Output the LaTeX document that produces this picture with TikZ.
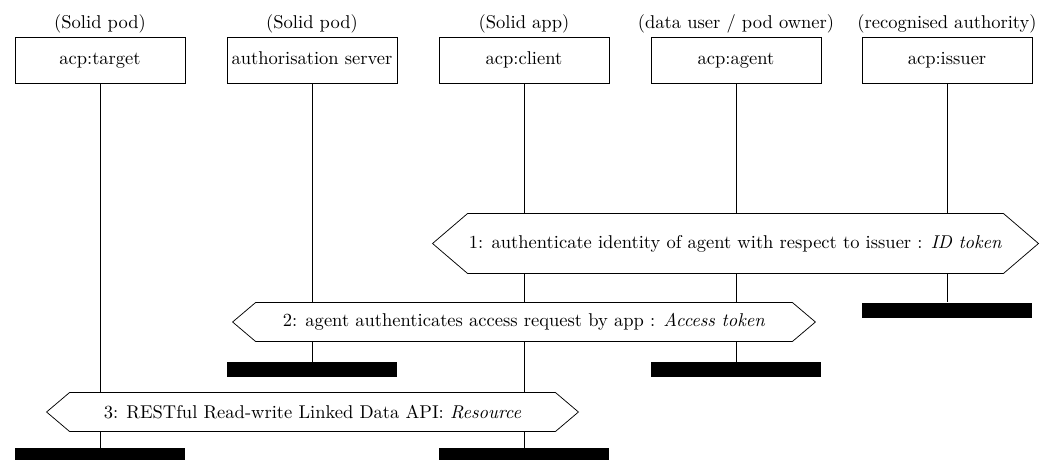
\documentclass[tikz,border=0pt]{standalone}
\usetikzlibrary{backgrounds}
\newcommand{\msghex}[2]{\draw[hexa] (#1.north west) -- (#1.north east) -- ([xshift=#2]#1.east) -- (#1.south east) -- (#1.south west) -- ([xshift=-#2]#1.west) -- cycle;}
\begin{document}
\begin{tikzpicture}[x=0.54pt,y=-0.54pt, line width=0.5pt,
  actor/.style={draw, minimum width=91.8pt, minimum height=24.84pt, inner sep=0pt, text height=1.6ex, text depth=0.45ex},
  role/.style={inner sep=0pt},
  endbar/.style={fill=black, minimum width=91.8pt, minimum height=8.1pt, inner sep=0pt},
  msg/.style={inner sep=0pt},
  hexa/.style={draw, fill=white},
  life/.style={draw}
]
\useasboundingbox (0,0) rectangle (1051,459);
% actors
\node[actor] (target) at (100,60) {acp:target};
\node[actor] (auth) at (312,60) {authorisation server};
\node[actor] (client) at (524,60) {acp:client};
\node[actor] (agent) at (736,60) {acp:agent};
\node[actor] (issuer) at (947,60) {acp:issuer};
% roles
\node[role] (rtarget) at (100,24) {(Solid pod)};
\node[role] (rauth) at (312,24) {(Solid pod)};
\node[role] (rclient) at (524,24) {(Solid app)};
\node[role] (ragent) at (736,24) {(data user / pod owner)};
\node[role] (rissuer) at (947,24) {(recognised authority)};
% end bars
\node[endbar] (issuerEnd) at (947,310) {};
\node[endbar] (authEnd) at (312,369.5) {};
\node[endbar] (agentEnd) at (736,369.5) {};
\node[endbar] (targetEnd) at (100,455.5) {};
\node[endbar] (clientEnd) at (524,455.5) {};
% messages
\node[msg, minimum width=288.9pt, minimum height=31.86pt] (m1) at (735.5,243.5)
  {1: authenticate identity of agent with respect to issuer : \textit{ID token}};
\node[msg, minimum width=289.4pt, minimum height=20.52pt] (m2) at (524,322)
  {2: agent authenticates access request by app : \textit{Access token}};
\node[msg, minimum width=261.9pt, minimum height=20.52pt] (m3) at (312.5,412)
  {3: RESTful Read-write Linked Data API: \textit{Resource}};
\begin{scope}[on background layer]
  \draw[life] (target.south) -- (targetEnd.north);
  \draw[life] (auth.south) -- (authEnd.north);
  \draw[life] (client.south) -- (clientEnd.north);
  \draw[life] (agent.south) -- (agentEnd.north);
  \draw[life] (issuer.south) -- (issuerEnd.north);
  \msghex{m1}{18.9pt}
  \msghex{m2}{12.4pt}
  \msghex{m3}{12.4pt}
\end{scope}
\end{tikzpicture}
\end{document}
